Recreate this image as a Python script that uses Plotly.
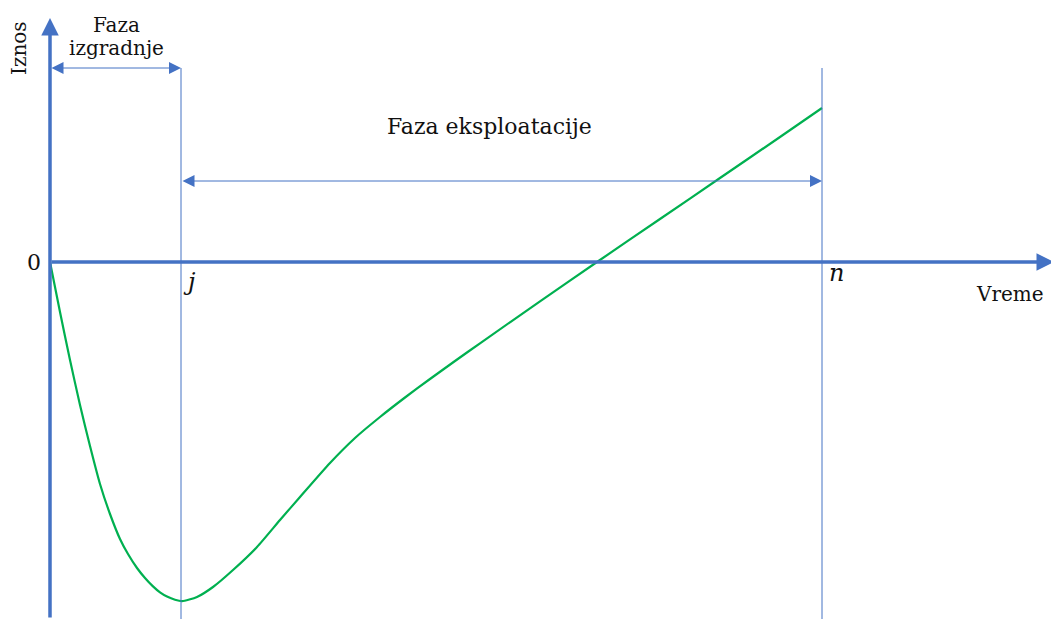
import plotly.graph_objects as go

# Curve: cumulative value over time (schematic units)
time_vals = [0, 1, 2, 3, 4, 5, 6, 7, 7.8, 8.7, 9.5, 10.3, 11.0, 11.7, 12.5, 13.2,
             14.7, 16.3, 18.3, 20.7, 23.0, 25.0, 28.0, 30.5, 33.0, 35.5, 38.0, 40.5, 43.0,
             49.0, 54.7, 61.0, 67.0, 73.0, 77.2]
amount_vals = [0, -5.0, -9.8, -14.3, -18.4, -22.2, -25.2, -27.7, -29.2, -30.6, -31.6, -32.44,
               -33.04, -33.46, -33.78, -33.92,
               -33.5, -32.5, -30.8, -28.5, -25.8, -23.5, -20.1, -17.6, -15.5, -13.55, -11.7,
               -9.9, -8.13, -3.93, 0, 4.3, 8.4, 12.5, 15.4]

# Key time points
t_j = 13.1
t_n = 77.2

# Axis extents
x_min, x_max = -5.0, 100.1
y_min, y_max = -35.7, 26.2

BLUE = "#4472C4"
GREEN = "#00B050"
FONT = "DejaVu Serif"

fig = go.Figure()
fig.add_trace(go.Scatter(x=time_vals, y=amount_vals, mode="lines",
                         line=dict(color=GREEN, width=2.2, shape="spline", smoothing=0.6),
                         hoverinfo="skip", showlegend=False))

shapes = [
    dict(type="line", x0=t_j, x1=t_j, y0=19.4, y1=y_min, line=dict(color=BLUE, width=1)),
    dict(type="line", x0=t_n, x1=t_n, y0=19.4, y1=y_min, line=dict(color=BLUE, width=1)),
]

annotations = []
# main axes with arrows
annotations.append(dict(x=0, y=24.4, ax=0, ay=y_min, xref="x", yref="y", axref="x", ayref="y",
                        text="", showarrow=True, arrowhead=2, arrowsize=1.0, arrowwidth=3.5,
                        arrowcolor=BLUE, standoff=0))
annotations.append(dict(x=x_max + 0.3, y=0, ax=0, ay=0, xref="x", yref="y", axref="x", ayref="y",
                        text="", showarrow=True, arrowhead=2, arrowsize=1.0, arrowwidth=3.5,
                        arrowcolor=BLUE, standoff=0))
# phase arrows
annotations.append(dict(x=t_j, y=19.4, ax=0, ay=19.4, xref="x", yref="y", axref="x", ayref="y",
                        text="", showarrow=True, arrowhead=2, startarrowhead=2, arrowside="end+start",
                        arrowsize=2.4, startarrowsize=2.4, arrowwidth=1, arrowcolor=BLUE, standoff=0,
                        startstandoff=0))
annotations.append(dict(x=t_n, y=8.1, ax=t_j, ay=8.1, xref="x", yref="y", axref="x", ayref="y",
                        text="", showarrow=True, arrowhead=2, startarrowhead=2, arrowside="end+start",
                        arrowsize=2.4, startarrowsize=2.4, arrowwidth=1, arrowcolor=BLUE, standoff=0,
                        startstandoff=0))

def txt(x, y, s, size, **kw):
    d = dict(x=x, y=y, xref="x", yref="y", text=s, showarrow=False,
             font=dict(family=FONT, size=size, color="#111111"), xanchor="center", yanchor="middle")
    d.update(kw)
    annotations.append(d)

txt(-3.1, 21.4, "Iznos", 20, textangle=-90)
txt(6.6, 23.7, "Faza", 20)
txt(6.6, 21.4, "izgradnje", 20)
txt(-1.65, 0, "0", 22)
txt(13.9, -2.0, "<i>j</i>", 24)
txt(78.65, -1.1, "<i>n</i>", 24)
txt(96.0, -3.2, "Vreme", 20)
txt(43.9, 13.6, "Faza eksploatacije", 22)

fig.update_layout(
    width=1051, height=619,
    margin=dict(l=0, r=0, t=0, b=0),
    paper_bgcolor="white", plot_bgcolor="white",
    xaxis=dict(range=[x_min, x_max], visible=False, fixedrange=True),
    yaxis=dict(range=[y_min, y_max], visible=False, fixedrange=True),
    shapes=shapes, annotations=annotations,
)

fig.write_html("out.html", config={"displayModeBar": False},
               post_script="document.body.style.margin='0';document.body.style.overflow='hidden';")
